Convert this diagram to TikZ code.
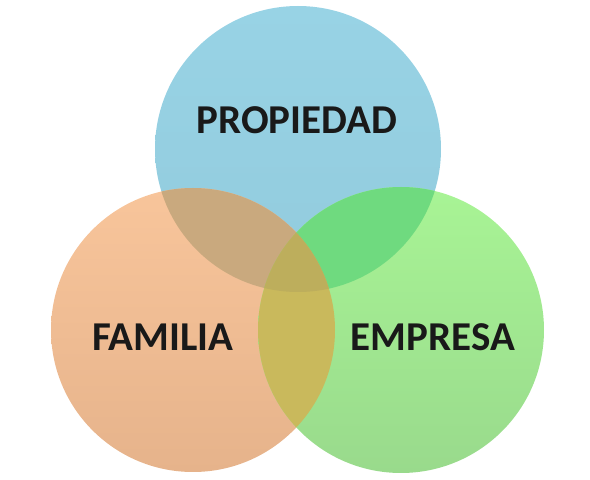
\documentclass[tikz,border=0pt]{standalone}
\usepackage{fontspec}
\setmainfont{Carlito}
\usepackage{color}
\definecolor{azul}{HTML}{98D3E5}
\definecolor{azulb}{HTML}{92CBDD}
\definecolor{naranja}{HTML}{F8C59B}
\definecolor{naranjab}{HTML}{E6B38B}
\definecolor{verde}{HTML}{A8F495}
\definecolor{verdeb}{HTML}{99DA8C}
\definecolor{nazul}{HTML}{C9A97E}
\definecolor{vazul}{HTML}{6FDA7F}
\definecolor{nverde}{HTML}{C9B95C}
\definecolor{centro}{HTML}{BDAE5C}

\begin{document}
\begin{tikzpicture}[x=1pt, y=1pt,
		lbl/.style={font=\bfseries\fontsize{41}{41}\selectfont, text=black!90}]
				\useasboundingbox (0,0) rectangle (590,480);
				\def\prop{(298,331) circle (143)}
				\def\fam{(193,150) circle (142)}
				\def\emp{(401,150) circle (143)}
				\shade[top color=azul, bottom color=azulb] \prop;
				\shade[top color=naranja, bottom color=naranjab] \fam;
				\shade[top color=verde, bottom color=verdeb] \emp;
				\begin{scope}
					\clip \fam;
					\fill[nazul] \prop;
				\end{scope}
				\begin{scope}
					\clip \emp;
					\fill[vazul] \prop;
				\end{scope}
				\begin{scope}
					\clip \emp;
					\fill[nverde] \fam;
				\end{scope}
				\begin{scope}
					\clip \emp;
					\clip \fam;
					\fill[centro] \prop;
				\end{scope}
				\node[lbl] (propiedad) at (297,360) {PROPIEDAD};
				\node[lbl] (familia) at (163,143) {FAMILIA};
				\node[lbl] (empresa) at (433,143) {EMPRESA};
			\end{tikzpicture}
\end{document}
